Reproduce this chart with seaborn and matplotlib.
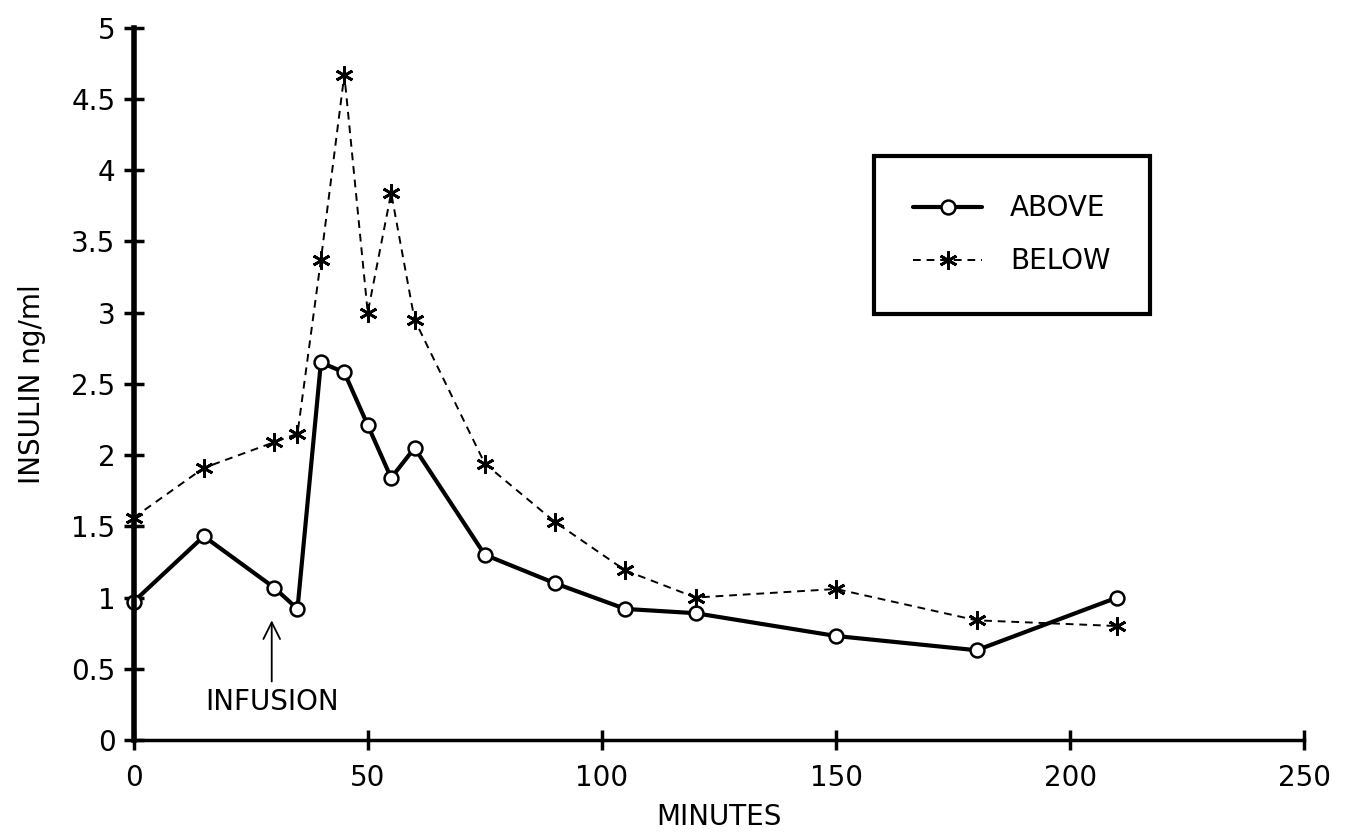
import pandas as pd
import seaborn as sns
import matplotlib.pyplot as plt

# insulin readings
minutes = [0, 15, 30, 35, 40, 45, 50, 55, 60, 75, 90, 105, 120, 150, 180, 210]
above = [0.97, 1.43, 1.07, 0.92, 2.65, 2.58, 2.21, 1.84, 2.05, 1.30, 1.10, 0.92, 0.89, 0.73, 0.63, 1.00]
below = [1.56, 1.91, 2.09, 2.15, 3.37, 4.67, 3.00, 3.84, 2.95, 1.94, 1.53, 1.19, 1.00, 1.06, 0.84, 0.80]

df = pd.DataFrame({'MINUTES': minutes * 2,
                   'insulin': above + below,
                   'group': ['ABOVE'] * len(minutes) + ['BELOW'] * len(minutes)})

sns.set_style('ticks')
plt.rcParams['font.family'] = ['DejaVu Sans']
for k in ['text.color', 'axes.labelcolor', 'xtick.color', 'ytick.color', 'axes.edgecolor']:
    plt.rcParams[k] = 'black'

fig = plt.figure(figsize=(13.49, 8.39), dpi=100)
ax = fig.add_axes([0.099, 0.118, 0.868, 0.849])

sns.lineplot(data=df[df.group == 'ABOVE'], x='MINUTES', y='insulin', ax=ax,
             color='black', linewidth=3, marker='o', markersize=10,
             markerfacecolor='white', markeredgecolor='black', markeredgewidth=1.8,
             label='ABOVE', clip_on=False)
sns.lineplot(data=df[df.group == 'BELOW'], x='MINUTES', y='insulin', ax=ax,
             color='black', linewidth=1.4, linestyle=(0, (4, 3)), marker=(6, 2, 0),
             markersize=13, markeredgewidth=2, markeredgecolor='black',
             label='BELOW', clip_on=False)

ax.set_xlim(0, 250)
ax.set_ylim(0, 5)
ax.set_xticks([0, 50, 100, 150, 200, 250])
ax.set_yticks([0, 0.5, 1, 1.5, 2, 2.5, 3, 3.5, 4, 4.5, 5])
ax.set_yticklabels(['0', '0.5', '1', '1.5', '2', '2.5', '3', '3.5', '4', '4.5', '5'])
ax.tick_params(axis='both', direction='inout', length=14, width=2.5, labelsize=20)
ax.tick_params(axis='y', pad=6)
ax.tick_params(axis='x', pad=10)
sns.despine(ax=ax)
ax.spines['left'].set_linewidth(4)
ax.spines['bottom'].set_linewidth(2.5)
ax.set_xlabel('MINUTES', fontsize=20, labelpad=8)
ax.set_ylabel('INSULIN ng/ml', fontsize=20, labelpad=18)

ax.annotate('INFUSION', xy=(29.5, 0.84), xytext=(29.5, 0.27), ha='center', va='center',
            fontsize=20, arrowprops=dict(arrowstyle='->', color='black', lw=1.3,
                                         shrinkA=2, shrinkB=0, mutation_scale=30))

leg = ax.legend(loc='upper left', bbox_to_anchor=(0.6325, 0.8205), fontsize=20,
                frameon=True, fancybox=False, edgecolor='black', framealpha=1,
                borderpad=1.4, handlelength=2.5, handletextpad=1.0,
                labelspacing=0.9, borderaxespad=0)
leg.get_frame().set_linewidth(3)
for t in leg.get_texts():
    t.set_color('black')

fig.savefig('out.png', dpi=100)
